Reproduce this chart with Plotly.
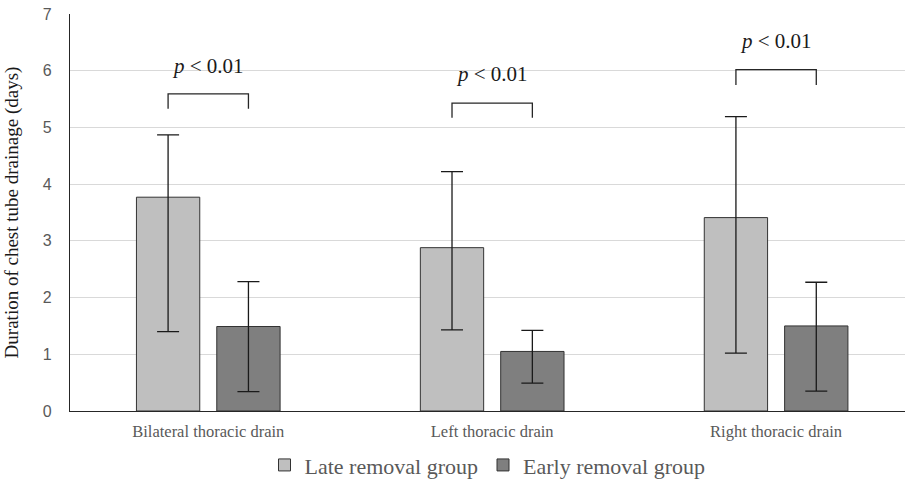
import plotly.graph_objects as go

categories = ["Bilateral thoracic drain", "Left thoracic drain", "Right thoracic drain"]
late_mean = [3.77, 2.88, 3.41]
late_upper = [4.87, 4.22, 5.19]
late_lower = [1.40, 1.43, 1.02]
early_mean = [1.49, 1.05, 1.50]
early_upper = [2.28, 1.42, 2.27]
early_lower = [0.34, 0.49, 0.35]
p_labels = ["p < 0.01", "p < 0.01", "p < 0.01"]
bracket_top = [5.59, 5.43, 6.02]
bracket_tick = [5.33, 5.17, 5.75]
label_y = [6.08, 5.94, 6.52]
y_ticks = [0, 1, 2, 3, 4, 5, 6, 7]

FONT = "Liberation Serif"
SANS = "Liberation Sans"
GRAY = "#595959"
bargap = 0.434
bargroupgap = 0.212

def err(mean, upper, lower):
    return (dict(type="data", symmetric=False,
                 array=[u - m for u, m in zip(upper, mean)],
                 arrayminus=[m - l for m, l in zip(mean, lower)],
                 color="#1a1a1a", thickness=1.3, width=11))

fig = go.Figure()
fig.add_trace(go.Bar(name="Late removal group", x=categories, y=late_mean,
                     marker=dict(color="#bfbfbf", line=dict(color="#333333", width=1)),
                     error_y=err(late_mean, late_upper, late_lower)))
fig.add_trace(go.Bar(name="Early removal group", x=categories, y=early_mean,
                     marker=dict(color="#7f7f7f", line=dict(color="#333333", width=1)),
                     error_y=err(early_mean, early_upper, early_lower)))

slot = (1 - bargap) / 2
off = slot / 2
for i, lab in enumerate(p_labels):
    x0, x1 = i - off, i + off
    fig.add_shape(type="path", xref="x", yref="y",
                  path=f"M {x0},{bracket_tick[i]} L {x0},{bracket_top[i]} L {x1},{bracket_top[i]} L {x1},{bracket_tick[i]}",
                  line=dict(color="#262626", width=1.3))
    fig.add_annotation(x=i, y=label_y[i], xref="x", yref="y",
                       text="<i>p</i> &lt; 0.01", showarrow=False,
                       font=dict(family=FONT, size=21, color="#1a1a1a"))

fig.update_layout(
    width=909, height=483,
    margin=dict(l=70, r=4, t=14, b=72, autoexpand=False),
    paper_bgcolor="white", plot_bgcolor="white",
    barmode="group", bargap=bargap, bargroupgap=bargroupgap,
    font=dict(family=FONT, color=GRAY),
    showlegend=True,
    legend=dict(orientation="h", x=0.5, xanchor="center", yref="container", y=0.037, yanchor="middle",
                font=dict(family=FONT, size=22, color=GRAY),
                traceorder="normal"),
    xaxis=dict(range=[-0.487, 2.454], showline=True, linecolor="#262626", linewidth=1.3,
               automargin=False, ticklabelstandoff=5,
               ticks="", tickfont=dict(family=FONT, size=16.5, color=GRAY), showgrid=False),
    yaxis=dict(range=[0, 7], tickvals=y_ticks, showline=True, linecolor="#262626", linewidth=1.3,
               automargin=False, ticklabeloverflow="allow",
               gridcolor="#d9d9d9", gridwidth=1, ticks="", zeroline=False,
               tickfont=dict(family=SANS, size=16, color=GRAY), ticklabelstandoff=14,
               title=dict(text="Duration of chest tube drainage (days)", standoff=19,
                          font=dict(family=FONT, size=19, color="#1a1a1a"))),
)
fig.write_html("out.html", config={"displayModeBar": False},
               post_script="document.body.style.margin='0';")
